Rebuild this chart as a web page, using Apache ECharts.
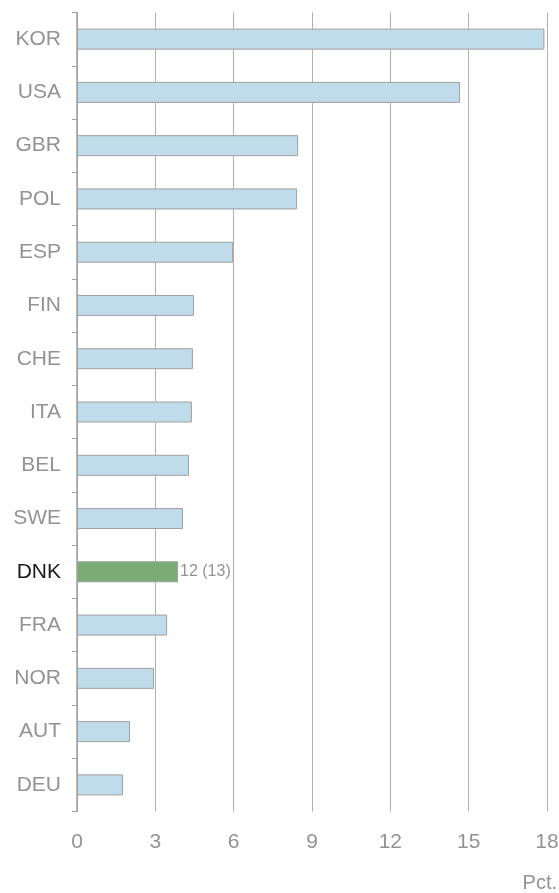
<!DOCTYPE html>
<html><head><meta charset="utf-8">
<script src="https://cdn.jsdelivr.net/npm/echarts@6/dist/echarts.min.js"></script>
<style>html,body{margin:0;padding:0;background:#fff}#c{width:559px;height:893px}</style>
</head><body><div id="c"></div>
<script>
const categories = ['KOR','USA','GBR','POL','ESP','FIN','CHE','ITA','BEL','SWE','DNK','FRA','NOR','AUT','DEU'];
const values = [17.9,14.67,8.47,8.43,5.98,4.48,4.44,4.4,4.29,4.06,3.87,3.45,2.95,2.03,1.76];
const xTicks = [0,3,6,9,12,15,18];
const highlight = 'DNK';
const highlightLabel = '12 (13)';
const unitLabel = 'Pct.';

const FF = 'Liberation Sans, Arial, sans-serif';
const chart = echarts.init(document.getElementById('c'));
chart.setOption({
  animation:false,
  grid:{left:77,right:12,top:12.5,bottom:81.5,containLabel:false,outerBoundsMode:'none'},
  xAxis:{type:'value',min:xTicks[0],max:xTicks[xTicks.length-1],interval:3,
    axisLine:{show:false},axisTick:{show:false},
    splitLine:{show:true,lineStyle:{color:'#b0b0b0',width:1}},
    axisLabel:{color:'#939393',fontSize:21,fontFamily:FF,margin:20}},
  yAxis:{type:'category',data:categories,inverse:true,
    axisLine:{show:true,lineStyle:{color:'#a0a0a0',width:1.5}},
    axisTick:{show:true,length:5,alignWithLabel:false,lineStyle:{color:'#a0a0a0'}},
    axisLabel:{fontSize:21,fontFamily:FF,margin:16,
      color:(v)=>v===highlight?'#1a1a1a':'#939393'}},
  series:[{type:'bar',barWidth:21,
    data:values.map((v,i)=>{
      const h = categories[i]===highlight;
      return {value:v,
        itemStyle:{color:h?'#7aab74':'#c0dbea',borderColor:'#a0a0a0',borderWidth:1},
        label:h?{show:true,position:'right',distance:2,formatter:highlightLabel,color:'#939393',fontSize:16,fontFamily:FF}:{show:false}};
    })}],
  graphic:[{type:'text',right:2,top:873,style:{text:unitLabel,fill:'#939393',font:'20px Liberation Sans, Arial, sans-serif'}}]
});
</script></body></html>
